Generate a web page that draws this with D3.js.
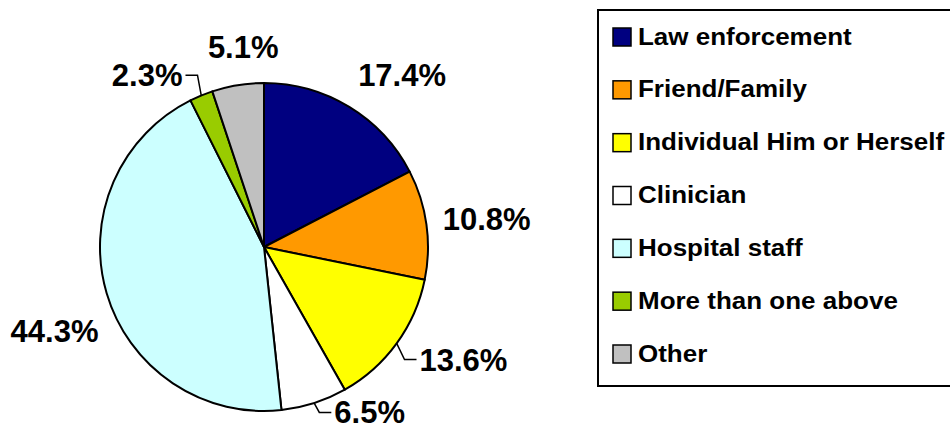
<!DOCTYPE html>
<html>
<head>
<meta charset="utf-8">
<script src="https://cdn.jsdelivr.net/npm/d3@7"></script>
<style>
  body { margin: 0; background: #fff; }
  text { font-family: Arial, "Liberation Sans", sans-serif; font-weight: bold; fill: #000; }
</style>
</head>
<body>
<script>
// chart data
const categories = ["Law enforcement", "Friend/Family", "Individual Him or Herself", "Clinician",
                    "Hospital staff", "More than one above", "Other"];
const shares = [17.4, 10.8, 13.6, 6.5, 44.3, 2.3, 5.1];
const colors = ["#000080", "#FF9900", "#FFFF00", "#FFFFFF", "#CCFFFF", "#99CC00", "#C0C0C0"];

// labels that were dragged away from the default spot (these get a leader line)
const leaderFor = [false, false, true, true, false, true, false];
// small hand nudges of the data labels, px
const labelNudge = [[17, -1], [-8, 0], [11, -5], [37, -25], [14, 28], [-31, 13], [15, -3]];

const width = 950, height = 429;
const cx = 264, cy = 247, radius = 164;

const svg = d3.select("body").append("svg")
  .attr("width", width)
  .attr("height", height);

const pie = d3.pie().sort(null).value(d => d)(shares);
const arc = d3.arc().innerRadius(0).outerRadius(radius);

const g = svg.append("g").attr("transform", `translate(${cx},${cy})`);

g.selectAll("path.slice")
  .data(pie)
  .enter().append("path")
  .attr("class", "slice")
  .attr("d", arc)
  .attr("fill", (d, i) => colors[i])
  .attr("stroke", "#000")
  .attr("stroke-width", 2)
  .attr("stroke-linejoin", "round");

// data labels, placed just outside the slice at its middle angle
const labelR = radius + 25;
const capHalf = 11;
pie.forEach((d, i) => {
  const a = (d.startAngle + d.endAngle) / 2;
  const s = Math.sin(a), c = Math.cos(a);
  const txt = g.append("text")
    .attr("font-size", 31)
    .attr("text-anchor", "middle")
    .text(shares[i].toFixed(1) + "%");
  const w = txt.node().getComputedTextLength();
  const x = labelR * s + (w / 2) * s + labelNudge[i][0];
  const yMid = -labelR * c - capHalf * c + labelNudge[i][1];
  txt.attr("x", x).attr("y", yMid + capHalf);

  if (leaderFor[i]) {
    const ex = radius * s, ey = -radius * c;
    const left = ex < x;
    const endX = left ? x - w / 2 - 3 : x + w / 2 + 3;
    const elbowX = left ? endX - 12 : endX + 12;
    g.append("path")
      .attr("d", d3.line()([[ex, ey], [elbowX, yMid], [endX, yMid]]))
      .attr("fill", "none")
      .attr("stroke", "#000")
      .attr("stroke-width", 1.5);
  }
});

// legend
const legend = svg.append("g");
legend.append("rect")
  .attr("x", 598).attr("y", 10)
  .attr("width", 360).attr("height", 376)
  .attr("fill", "#fff")
  .attr("stroke", "#000")
  .attr("stroke-width", 2);

const yLegend = d3.scalePoint().domain(categories).range([37, 354]);

const rows = legend.selectAll("g.row")
  .data(categories)
  .enter().append("g")
  .attr("class", "row")
  .attr("transform", d => `translate(0,${yLegend(d)})`);

rows.append("rect")
  .attr("x", 613).attr("y", -9)
  .attr("width", 18).attr("height", 18)
  .attr("fill", (d, i) => colors[i])
  .attr("stroke", "#000")
  .attr("stroke-width", 1.5);

rows.append("text")
  .attr("transform", "translate(638,7.5) scale(1.13,1)")
  .attr("font-size", 23)
  .text(d => d);
</script>
</body>
</html>
